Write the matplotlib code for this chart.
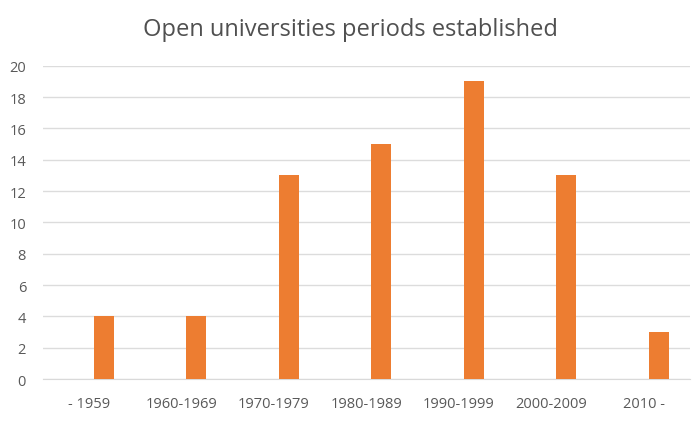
import numpy as np
import matplotlib.pyplot as plt

periods = ["- 1959", "1960-1969", "1970-1979", "1980-1989", "1990-1999", "2000-2009", "2010 -"]
counts = [4, 4, 13, 15, 19, 13, 3]
y_ticks = [0, 2, 4, 6, 8, 10, 12, 14, 16, 18, 20]

plt.rcParams['font.family'] = ['Open Sans', 'DejaVu Sans']

fig = plt.figure(figsize=(7, 4.31), dpi=100)
ax = fig.add_axes([0.061, 0.118, 0.925, 0.727])

x = np.arange(len(periods))
ax.bar(x + 0.16, counts, width=0.22, color="#ED7D31", zorder=3)

ax.set_xlim(-0.5, len(periods) - 0.5)
ax.set_ylim(0, 20)
ax.set_yticks(y_ticks)
ax.set_xticks(x)
ax.set_xticklabels(periods)
ax.grid(axis="y", color="#dcdcdc", linewidth=1, zorder=0)
for s in ["top", "right", "left"]:
    ax.spines[s].set_visible(False)
ax.spines["bottom"].set_color("#d9d9d9")
ax.tick_params(axis="both", length=0, labelsize=10.5, colors="#595959")
ax.tick_params(axis="y", pad=12)
ax.tick_params(axis="x", pad=12)

fig.suptitle("Open universities periods established", fontsize=17, color="#505050", y=0.958)

plt.savefig("out.png", dpi=100, facecolor="white")
